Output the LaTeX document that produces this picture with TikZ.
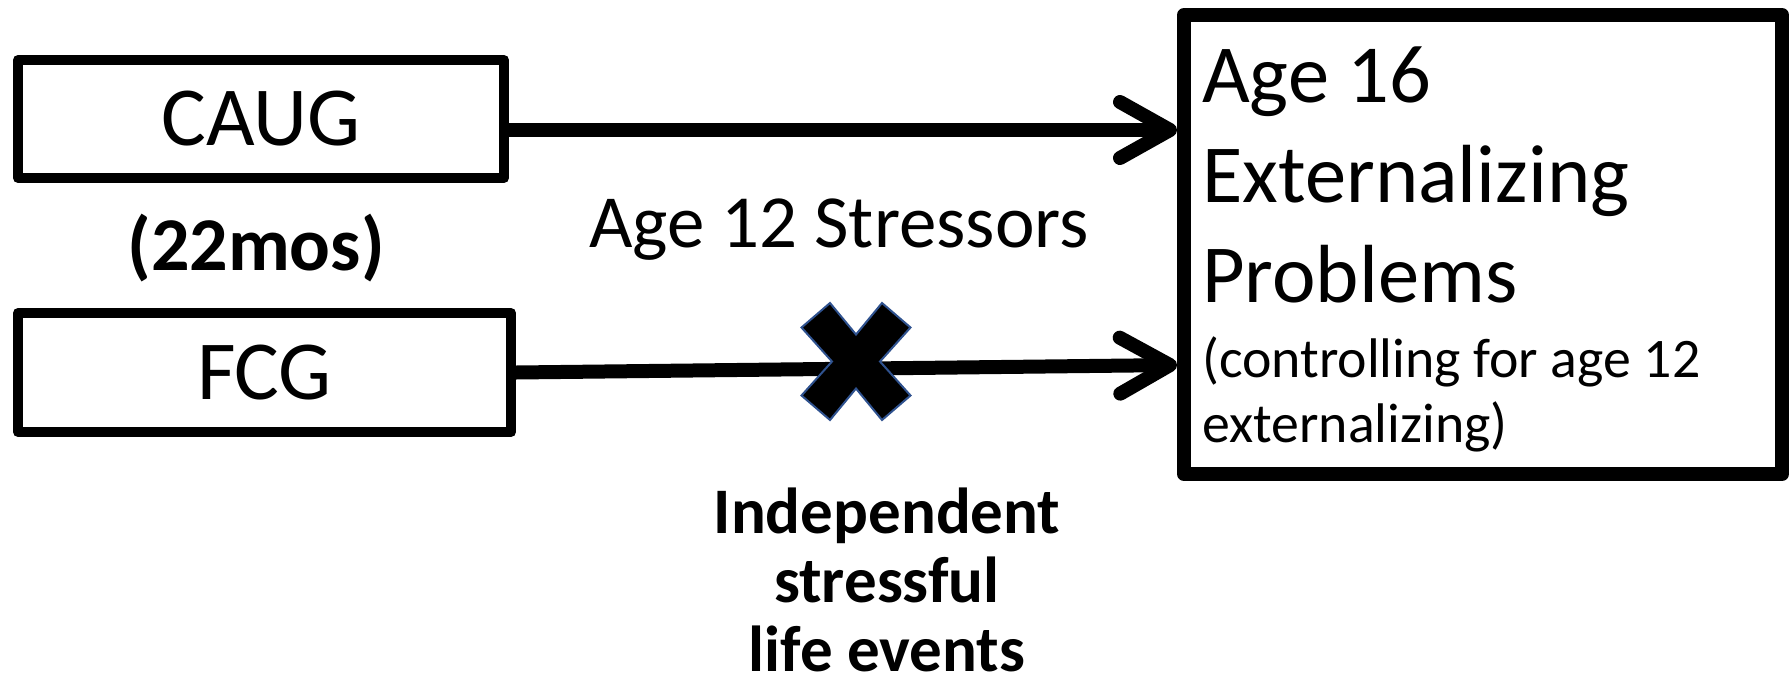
\documentclass[tikz,border=0pt]{standalone}
\usepackage{fontspec}
\setmainfont{Carlito}
\usetikzlibrary{arrows.meta}
\definecolor{crossline}{HTML}{2F528F}
\begin{document}
\begin{tikzpicture}[x=1pt,y=-1pt,
  smallbox/.style={draw, line width=10pt, line join=round, inner sep=0pt,
    font=\fontsize{84}{100}\selectfont},
  bigbox/.style={draw, line width=14pt, line join=round, inner sep=0pt},
  link/.style={line width=14pt, -{Straight Barb[length=50pt,width=56pt,round]}},
  crossmark/.style={fill=black, draw=crossline, line width=2pt, line join=miter}
]
\useasboundingbox (0,0) rectangle (1789,694);

% predictor boxes
\node[smallbox, minimum width=486pt, minimum height=118pt] (caug) at (261,119) {CAUG};
\node[smallbox, minimum width=493pt, minimum height=119pt] (fcg) at (264.5,372.5) {FCG};
\node[anchor=base, inner sep=0pt, font=\bfseries\fontsize{76}{90}\selectfont] (age) at (256,270) {(22mos)};

% outcome box
\node[bigbox, minimum width=598pt, minimum height=459pt] (out) at (1483,244.5) {};
\node[anchor=base west, inner sep=0pt] (outtxt) at (1202,102)
  {\parbox[t]{570pt}{\raggedright\fontsize{82.5}{100}\selectfont
   Age 16\\Externalizing\\Problems\par\vspace{10pt}
   \fontsize{55.8}{65}\selectfont(controlling for age 12\\externalizing)}};

% paths
\draw[link] ([yshift=-11pt]caug.east) -- ([yshift=114.5pt]out.west);
\draw[link] (fcg.east) -- ([yshift=-120.5pt]out.west);

\node[anchor=base, inner sep=0pt, font=\fontsize{75}{90}\selectfont] (stress) at (839,247) {Age 12 Stressors};

% cross over the lower path
\begin{scope}[shift={(856,361.5)}]
  \draw[crossmark] (-26,-58.5) -- (0,-27) -- (26,-58.5) -- (54.5,-34) -- (24,0)
    -- (54.5,34) -- (26,58.5) -- (0,27) -- (-26,58.5) -- (-54.5,34) -- (-24,0)
    -- (-54.5,-34) -- cycle;
\end{scope}

\node[anchor=base, inner sep=0pt] (events) at (887,533)
  {\parbox[t]{420pt}{\centering\bfseries\fontsize{65}{69}\selectfont
   Independent\\stressful\\life events}};
\end{tikzpicture}
\end{document}
